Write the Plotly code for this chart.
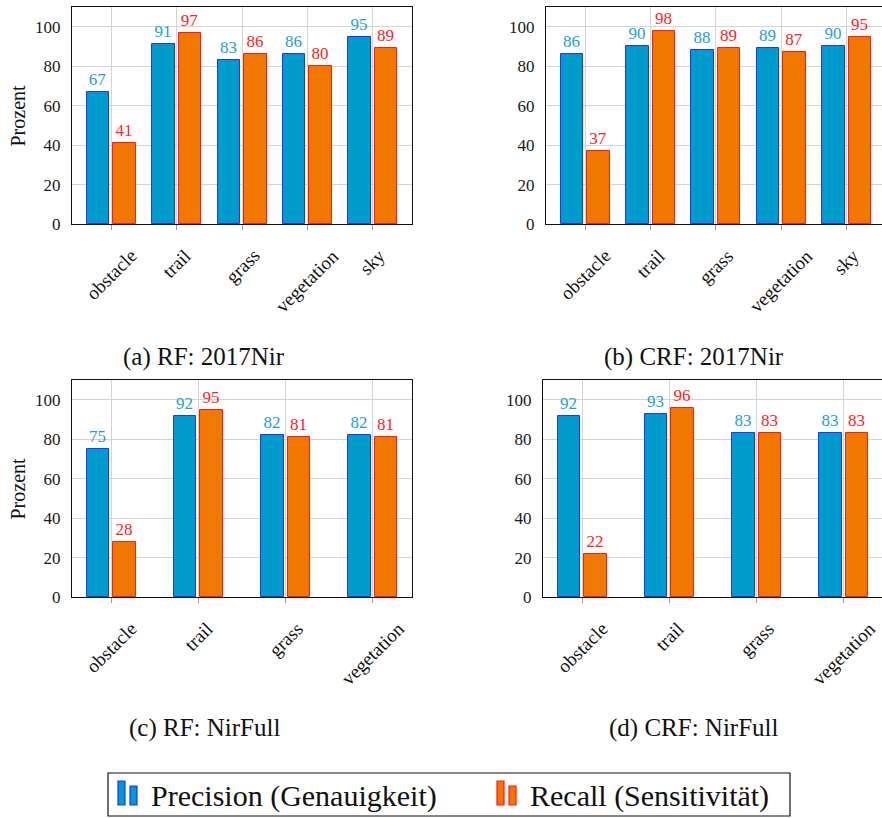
import plotly.graph_objects as go

# ---- data -------------------------------------------------------------
categories_2017 = ["obstacle", "trail", "grass", "vegetation", "sky"]
categories_full = ["obstacle", "trail", "grass", "vegetation"]

rf_2017_precision = [67, 91, 83, 86, 95]
rf_2017_recall = [41, 97, 86, 80, 89]

crf_2017_precision = [86, 90, 88, 89, 90]
crf_2017_recall = [37, 98, 89, 87, 95]

rf_full_precision = [75, 92, 82, 82]
rf_full_recall = [28, 95, 81, 81]

crf_full_precision = [92, 93, 83, 83]
crf_full_recall = [22, 96, 83, 83]

captions = ["(a) RF: 2017Nir", "(b) CRF: 2017Nir", "(c) RF: NirFull", "(d) CRF: NirFull"]
series_names = ["Precision (Genauigkeit)", "Recall (Sensitivität)"]
y_ticks = [0, 20, 40, 60, 80, 100]

# ---- styling ----------------------------------------------------------
W, H = 882, 818
FONT = "Liberation Serif"
PREC_FILL, PREC_LINE, PREC_TEXT = "#009BCD", "#2233ff", "#1ea0d4"
REC_FILL, REC_LINE, REC_TEXT = "#F07800", "#ff1a1a", "#ff2222"
GRID = "#d4d4d4"
INK = "#111111"

# panel boxes in pixels: (left, right, top, bottom), plus x range
panels = [
    dict(cats=categories_2017, prec=rf_2017_precision, rec=rf_2017_recall,
         box=(72, 412, 7, 224), xr=(-0.6, 4.6), right_border=True, ylabel=True,
         cap=(204, 357)),
    dict(cats=categories_2017, prec=crf_2017_precision, rec=crf_2017_recall,
         box=(546, 882, 7, 224), xr=(-0.6, 4.539), right_border=False, ylabel=False,
         cap=(694, 357)),
    dict(cats=categories_full, prec=rf_full_precision, rec=rf_full_recall,
         box=(72, 412, 380, 597), xr=(-0.45, 3.45), right_border=True, ylabel=True,
         cap=(204, 728)),
    dict(cats=categories_full, prec=crf_full_precision, rec=crf_full_recall,
         box=(543, 882, 380, 597), xr=(-0.45, 3.438), right_border=False, ylabel=False,
         cap=(694, 728)),
]

BAR_PX = 22.5   # bar width in pixels
GAP_PX = 2.0    # half gap between the two bars of a group

fig = go.Figure()
annotations = []
shapes = []

for k, p in enumerate(panels):
    n = k + 1
    xa = "x" if n == 1 else f"x{n}"
    ya = "y" if n == 1 else f"y{n}"
    left, right, top, bottom = p["box"]
    x0, x1 = p["xr"]
    px_per_unit = (right - left) / (x1 - x0)
    bw = BAR_PX / px_per_unit
    gap = GAP_PX / px_per_unit
    xs = list(range(len(p["cats"])))

    for vals, name, fill, line, tcol, off in [
        (p["prec"], series_names[0], PREC_FILL, PREC_LINE, PREC_TEXT, -gap - bw),
        (p["rec"], series_names[1], REC_FILL, REC_LINE, REC_TEXT, gap),
    ]:
        fig.add_trace(go.Bar(
            x=xs, y=vals, name=name, width=bw, offset=off,
            marker=dict(color=fill, line=dict(color=line, width=1)),
            text=[str(v) for v in vals], textposition="outside",
            outsidetextfont=dict(family=FONT, size=17, color=tcol),
            constraintext="none", cliponaxis=False,
            xaxis=xa, yaxis=ya, showlegend=False,
        ))

    xkey = "xaxis" if n == 1 else f"xaxis{n}"
    ykey = "yaxis" if n == 1 else f"yaxis{n}"
    fig.layout[xkey] = dict(
        domain=[left / W, right / W], anchor=ya, range=[x0, x1],
        tickvals=xs, showticklabels=False, ticks="outside", ticklen=5,
        tickcolor="#999999", showgrid=True, gridcolor=GRID, gridwidth=1,
        showline=True, linecolor=INK, linewidth=1.3, mirror=True,
        zeroline=False, fixedrange=True,
    )
    fig.layout[ykey] = dict(
        domain=[1 - bottom / H, 1 - top / H], anchor=xa, range=[0, 110],
        tickvals=y_ticks, ticks="", ticklabelstandoff=7,
        tickfont=dict(family=FONT, size=17, color="#1a1a1a"),
        showgrid=True, gridcolor=GRID, gridwidth=1,
        showline=True, linecolor=INK, linewidth=1.3,
        mirror=p["right_border"], zeroline=False, fixedrange=True,
    )

    # rotated category labels under the ticks
    for i, c in enumerate(p["cats"]):
        annotations.append(dict(
            x=i, y=0, xref=xa, yref=ya, text=c, showarrow=False,
            textangle=-45, xanchor="center", yanchor="top", yshift=-18,
            font=dict(family=FONT, size=19, color=INK),
        ))

    # sub-captions
    cx, cy = p["cap"]
    annotations.append(dict(
        x=cx / W, y=1 - cy / H, xref="paper", yref="paper", text=captions[k],
        showarrow=False, xanchor="center", yanchor="middle",
        font=dict(family=FONT, size=25, color=INK),
    ))

    if p["ylabel"]:
        annotations.append(dict(
            x=17 / W, y=1 - ((top + bottom) / 2) / H, xref="paper", yref="paper",
            text="Prozent", textangle=-90, showarrow=False,
            xanchor="center", yanchor="middle",
            font=dict(family=FONT, size=20, color=INK),
        ))

# ---- shared legend box below the panels --------------------------------
def px_rect(x0, y0, x1, y1, fill, line, width=1):
    return dict(type="rect", xref="paper", yref="paper",
                x0=x0 / W, x1=x1 / W, y0=1 - y1 / H, y1=1 - y0 / H,
                fillcolor=fill, line=dict(color=line, width=width), layer="above")

shapes.append(px_rect(108, 773, 790, 816, "rgba(0,0,0,0)", INK, 1.2))
legend_entries = [
    (series_names[0], PREC_FILL, PREC_LINE, 118, 149),
    (series_names[1], REC_FILL, REC_LINE, 497, 528),
]
for name, fill, line, icon_x, text_x in legend_entries:
    shapes.append(px_rect(icon_x, 781, icon_x + 7, 805, fill, line, 1.2))
    shapes.append(px_rect(icon_x + 12, 786, icon_x + 19, 805, fill, line, 1.2))
    annotations.append(dict(
        x=text_x / W, y=1 - 796 / H, xref="paper", yref="paper", text=name,
        showarrow=False, xanchor="left", yanchor="middle",
        font=dict(family=FONT, size=30, color=INK),
    ))

fig.update_layout(
    width=W, height=H,
    margin=dict(l=0, r=0, t=0, b=0, pad=0, autoexpand=False),
    paper_bgcolor="white", plot_bgcolor="white",
    font=dict(family=FONT, color=INK),
    barmode="overlay", bargap=0, showlegend=False,
    annotations=annotations, shapes=shapes,
)

fig.write_html("out.html")
